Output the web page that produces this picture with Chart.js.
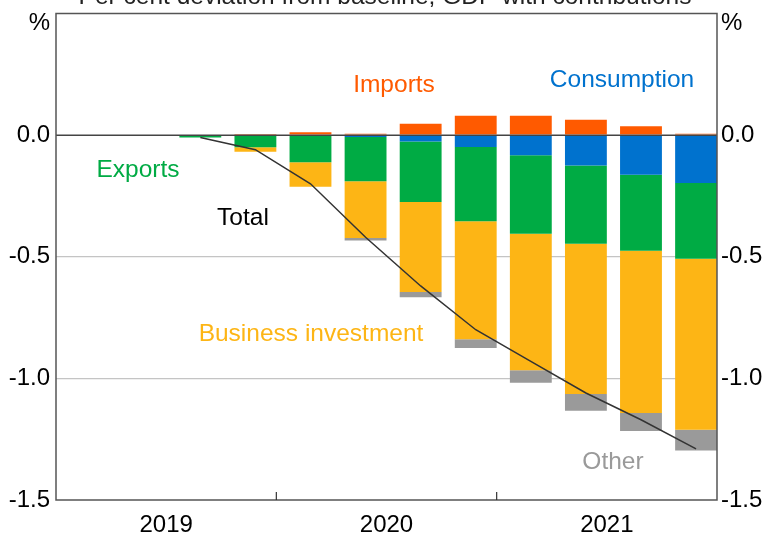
<!DOCTYPE html>
<html>
<head>
<meta charset="utf-8">
<script src="https://cdn.jsdelivr.net/npm/chart.js@4/dist/chart.umd.min.js"></script>
<style>
  html, body { margin: 0; padding: 0; background: #fff; }
  #wrap { width: 763px; height: 534px; position: relative; }
</style>
</head>
<body>
<div id="wrap"><canvas id="chart"></canvas></div>
<script>
const quarters = ['2019 Q1', '2019 Q2', '2019 Q3', '2019 Q4', '2020 Q1', '2020 Q2', '2020 Q3', '2020 Q4', '2021 Q1', '2021 Q2', '2021 Q3', '2021 Q4'];
const imports     = [null, null, 0, 0.005, 0.012, 0.006, 0.047, 0.080, 0.080, 0.063, 0.036, 0.006];
const consumption = [null, null, 0, 0, 0, -0.008, -0.026, -0.049, -0.083, -0.125, -0.163, -0.197];
const exportsC    = [null, null, -0.010, -0.050, -0.112, -0.182, -0.249, -0.305, -0.322, -0.322, -0.312, -0.311];
const businessInv = [null, null, 0, -0.018, -0.100, -0.233, -0.370, -0.485, -0.562, -0.617, -0.667, -0.703];
const other       = [null, null, 0, 0, 0, -0.010, -0.021, -0.036, -0.051, -0.069, -0.074, -0.085];
const total       = [null, null, -0.010, -0.060, -0.200, -0.420, -0.620, -0.800, -0.930, -1.060, -1.170, -1.290];
const years = ['2019', '2020', '2021'];
const yTicks = [0, -0.5, -1, -1.5];

const FONT = 'Arial, "Liberation Sans", sans-serif';
const BAR_POS = 0.62; // bars sit toward the end of each quarter

function pts(arr) {
    return arr.map((v, i) => ({ x: i + BAR_POS, y: v }));
}

function barSet(label, arr, color) {
    return {
        type: 'bar', label: label, data: pts(arr), backgroundColor: color,
        borderWidth: 0, barPercentage: 0.76, categoryPercentage: 1, stack: 's', order: 2
    };
}

function noPad(s) {
    s.paddingTop = 0; s.paddingBottom = 0; s.paddingLeft = 0; s.paddingRight = 0;
}

const labelPlugin = {
    id: 'labels',
    beforeDraw(chart) {
        const ctx = chart.ctx;
        ctx.save();
        ctx.font = '24.5px ' + FONT;
        ctx.fillStyle = '#222';
        ctx.textAlign = 'center';
        ctx.textBaseline = 'alphabetic';
        ctx.fillText('Per cent deviation from baseline, GDP with contributions', 385, 4);
        ctx.restore();
    },
    afterDatasetsDraw(chart) {
        const ctx = chart.ctx;
        const a = chart.chartArea;
        const y = chart.scales.y;
        const x = chart.scales.x;
        ctx.save();
        // zero line
        ctx.strokeStyle = '#444';
        ctx.lineWidth = 1.5;
        ctx.beginPath();
        ctx.moveTo(a.left, y.getPixelForValue(0));
        ctx.lineTo(a.right, y.getPixelForValue(0));
        ctx.stroke();
        // frame
        ctx.strokeStyle = '#555';
        ctx.lineWidth = 1.5;
        ctx.strokeRect(a.left, a.top, a.right - a.left, a.bottom - a.top);
        // year ticks (inside)
        ctx.lineWidth = 1.2;
        ctx.strokeStyle = '#333';
        [4, 8].forEach(v => {
            const px = x.getPixelForValue(v);
            ctx.beginPath();
            ctx.moveTo(px, a.bottom);
            ctx.lineTo(px, a.bottom - 8);
            ctx.stroke();
        });
        // unit labels
        ctx.font = '24px ' + FONT;
        ctx.fillStyle = '#000';
        ctx.textBaseline = 'middle';
        ctx.textAlign = 'right';
        ctx.fillText('%', a.left - 6, a.top + 10);
        ctx.textAlign = 'left';
        ctx.fillText('%', a.right + 4, a.top + 10);
        // series labels
        ctx.font = '24.5px ' + FONT;
        ctx.textAlign = 'center';
        const lbl = [
            ['Imports', '#ff5a00', 394, 85],
            ['Consumption', '#0072ce', 622, 80],
            ['Exports', '#00ab44', 138, 170],
            ['Total', '#000000', 243, 218],
            ['Business investment', '#fdb515', 311, 334],
            ['Other', '#9a9a9a', 613, 462]
        ];
        lbl.forEach(l => {
            ctx.fillStyle = l[1];
            ctx.fillText(l[0], l[2], l[3]);
        });
        ctx.restore();
    }
};

new Chart(document.getElementById('chart'), {
    data: {
        datasets: [
            {
                type: 'line', label: 'Total', data: pts(total), borderColor: '#333',
                borderWidth: 1.5, pointRadius: 0, fill: false, tension: 0, order: 0, spanGaps: false
            },
            barSet('Consumption', consumption, '#0072ce'),
            barSet('Exports', exportsC, '#00ab44'),
            barSet('Business investment', businessInv, '#fdb515'),
            barSet('Other', other, '#9a9a9a'),
            barSet('Imports', imports, '#ff5a00')
        ]
    },
    options: {
        responsive: true,
        maintainAspectRatio: false,
        animation: false,
        devicePixelRatio: 1,
        layout: { autoPadding: false, padding: { top: 13.5, left: 0, right: 0, bottom: 0 } },
        plugins: { legend: { display: false }, tooltip: { enabled: false } },
        scales: {
            x: {
                type: 'linear', min: 0, max: 12, stacked: true, offset: false,
                afterBuildTicks(s) { s.ticks = [2, 6, 10].map(v => ({ value: v })); },
                afterFit(s) { s.height = 34; noPad(s); },
                grid: { display: false, drawTicks: false },
                border: { display: false },
                ticks: {
                    padding: 11, color: '#000', font: { family: FONT, size: 24 },
                    callback: (v) => years[(v - 2) / 4]
                }
            },
            y: {
                position: 'left', min: -1.5, max: 0.5, stacked: true,
                afterBuildTicks(s) { s.ticks = yTicks.map(v => ({ value: v })); },
                afterFit(s) { s.width = 56; noPad(s); },
                grid: {
                    drawTicks: false, lineWidth: 1.2,
                    color: (c) => (c.tick && (c.tick.value === -0.5 || c.tick.value === -1)) ? '#c4c4c4' : 'rgba(0,0,0,0)'
                },
                border: { display: false },
                ticks: {
                    padding: 6, color: '#000', font: { family: FONT, size: 24 },
                    callback: (v) => v.toFixed(1)
                }
            },
            y2: {
                position: 'right', min: -1.5, max: 0.5,
                afterBuildTicks(s) { s.ticks = yTicks.map(v => ({ value: v })); },
                afterFit(s) { s.width = 46; noPad(s); },
                grid: { display: false, drawTicks: false },
                border: { display: false },
                ticks: {
                    padding: 4, color: '#000', font: { family: FONT, size: 24 },
                    callback: (v) => v.toFixed(1)
                }
            }
        }
    },
    plugins: [labelPlugin]
});
</script>
</body>
</html>
